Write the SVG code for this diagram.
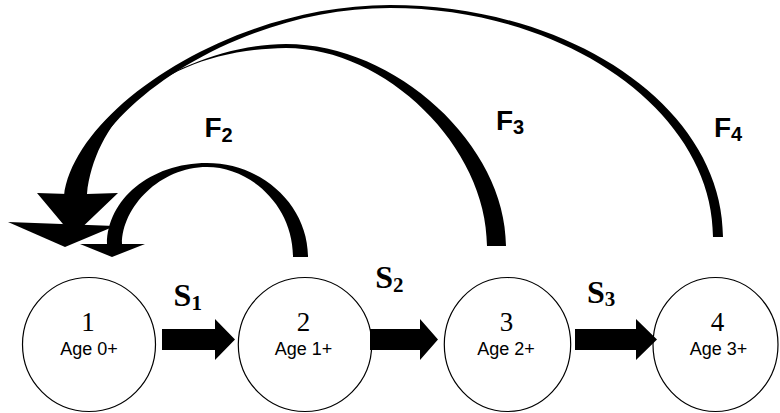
<svg xmlns="http://www.w3.org/2000/svg" width="780" height="413" viewBox="0 0 780 413">
<style>
.node ellipse{fill:#fff;stroke:#000;stroke-width:1.2}
.num{font-family:"Liberation Serif","Times New Roman",serif;font-size:27px;text-anchor:middle;fill:#000}
.age{font-family:"Liberation Sans",Arial,sans-serif;font-size:18px;text-anchor:middle;fill:#000}
.blk{fill:#000;stroke:none}
.slab{font-family:"Liberation Serif","Times New Roman",serif;font-weight:bold;font-size:32px;fill:#000}
.flab{font-family:"Liberation Sans",Arial,sans-serif;font-weight:bold;font-size:28px;fill:#000}
</style>
<rect width="780" height="413" fill="#fff"/>
<g id="node1" class="node">
<ellipse cx="89" cy="344.5" rx="66.5" ry="67"/>
<text class="num" x="88" y="331">1</text>
<text class="age" x="89" y="355">Age 0+</text>
</g>
<g id="node2" class="node">
<ellipse cx="305" cy="344.5" rx="66.7" ry="67"/>
<text class="num" x="303.5" y="331">2</text>
<text class="age" x="303.5" y="355">Age 1+</text>
</g>
<g id="node3" class="node">
<ellipse cx="507.5" cy="344.5" rx="63.2" ry="67"/>
<text class="num" x="506.5" y="331">3</text>
<text class="age" x="506" y="355">Age 2+</text>
</g>
<g id="node4" class="node">
<ellipse cx="715.5" cy="344.5" rx="62.5" ry="67"/>
<text class="num" x="717.5" y="331">4</text>
<text class="age" x="718.5" y="355">Age 3+</text>
</g>
<g id="connectors">
<g id="s1">
<polygon class="blk" points="162,329 215,329 215,319 235,339.5 215,360 215,350 162,350"/>
<text class="slab" x="173.6" y="306">S<tspan font-size="21" dy="4">1</tspan></text>
</g>
<g id="s2">
<polygon class="blk" points="370,329 420,329 420,319 438,339.5 420,360 420,350 370,350"/>
<text class="slab" x="375.3" y="288">S<tspan font-size="21" dy="4">2</tspan></text>
</g>
<g id="s3">
<polygon class="blk" points="575,329 636,329 636,319 657,339.5 636,360 636,350 575,350"/>
<text class="slab" x="587" y="303">S<tspan font-size="21" dy="3">3</tspan></text>
</g>
<g id="f2">
<path class="blk" d="M308,257 C308,205 262,163 207,163 C150,163 107,200 107,244 L80,244 L112,257 L145,244 L122,244 C122,207 160,167 207,167 C250,167 293,205 293,257 Z"/>
<text class="flab" x="204.5" y="137">F<tspan font-size="20" dy="5">2</tspan></text>
</g>
<g id="f3">
<path class="blk" d="M506,246 C506,145 396,44 286,44 C190,44 75,115 68,194 L37,193 L73,236 L118,193 L87,194 C95,120 160,50 286,48 C386,48 487,147 487,246 Z"/>
<text class="flab" x="496" y="130">F<tspan font-size="20" dy="4">3</tspan></text>
</g>
<g id="f4">
<path class="blk" d="M723,237 C723,109 573,5 390,5 C230,5 74,110 64,196 L80,196 C82,115 232,8 390,8 C566,8 713,112 713,237 Z"/>
<polygon class="blk" points="8,222 115,226 65,247"/>
<text class="flab" x="714" y="137">F<tspan font-size="20" dy="4">4</tspan></text>
</g>
</g>
</svg>
